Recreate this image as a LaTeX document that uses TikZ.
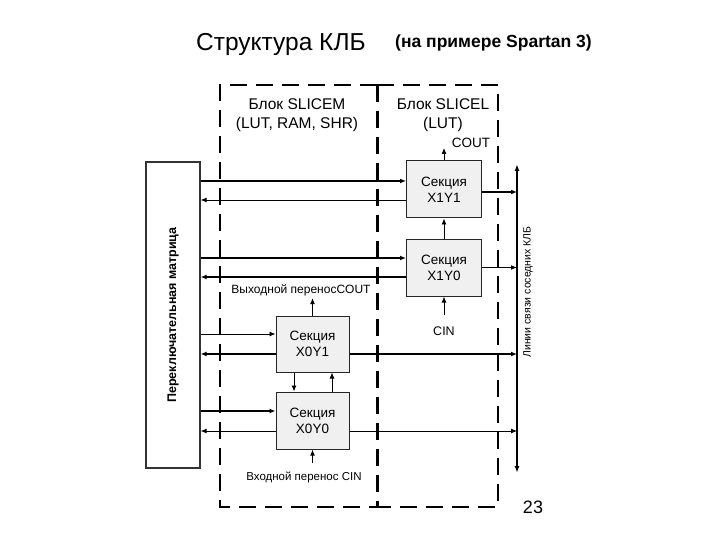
\documentclass[tikz,border=0pt]{standalone}
\usepackage{fontspec}
\setmainfont{Liberation Sans}
\usetikzlibrary{arrows.meta}
\begin{document}
\begin{tikzpicture}[x=1pt,y=-1pt,
  sect/.style={draw=black!85, line width=1pt, fill=gray!12, minimum width=75pt, minimum height=57pt, align=center, font=\fontsize{13.5}{16}\selectfont, inner sep=0pt},
  swbox/.style={draw=black!80, line width=1.2pt, fill=white, minimum width=54pt, minimum height=306pt, inner sep=0pt},
  dbox/.style={line width=2.2pt, dash pattern=on 17pt off 9pt},
  thk/.style={line width=1.7pt},
  thn/.style={line width=0.9pt},
  arr/.style={-{Latex[length=6pt,width=5pt]}},
  lbl/.style={inner sep=0pt, font=\fontsize{12}{14}\selectfont},
]
\useasboundingbox (0,0) rectangle (720,540);

% titles
\node[font=\fontsize{24.5}{28}\selectfont, anchor=west, inner sep=0pt] (t1) at (196,44) {Структура КЛБ};
\node[font=\fontsize{17.5}{20}\selectfont\bfseries, anchor=west, inner sep=0pt] (t2) at (395,43) {(на примере Spartan 3)};
\node[font=\fontsize{18}{20}\selectfont, inner sep=0pt] (pg) at (533,507) {23};

% dashed blocks
\draw[dbox] (377,85) -- (220,85) -- (220,507) -- (377,507);
\draw[dbox] (377,85) -- (498,85) -- (498,507) -- (377,507);
\draw[dbox, line width=3pt] (377,85) -- (377,507);

\node[lbl, font=\fontsize{15.5}{19}\selectfont, align=center] (bm) at (297,115) {Блок SLICEM\\(LUT, RAM, SHR)};
\node[lbl, font=\fontsize{15.5}{19}\selectfont, align=center] (bl) at (443,115) {Блок SLICEL\\(LUT)};

% switch matrix
\node[swbox] (sw) at (173,315) {};
\node[rotate=90, font=\fontsize{12.5}{14}\selectfont\bfseries, inner sep=0pt] (swl) at (sw.center) {Переключательная матрица};

% sections
\node[sect] (x11) at (444,189.5) {Секция\\X1Y1};
\node[sect] (x10) at (444,267.5) {Секция\\X1Y0};
\node[sect, minimum width=73pt, minimum height=56pt] (x01) at (312.5,344) {Секция\\X0Y1};
\node[sect, minimum width=73pt, minimum height=57pt] (x00) at (312.5,420.5) {Секция\\X0Y0};

% bus
\coordinate (bt) at (517,164);
\coordinate (bb) at (517,473);
\draw[thk, {Latex[length=7pt,width=5pt]}-{Latex[length=7pt,width=5pt]}] (bb) -- (bt);
\node[rotate=90, font=\fontsize{10.5}{12}\selectfont, inner sep=0pt] (busl) at (528,292) {Линии связи соседних КЛБ};

% X1Y1 rows
\draw[thk, arr] ([yshift=8.5pt]x11.west -| sw.east) -- ([yshift=8.5pt]x11.west);
\draw[thn, arr] ([yshift=-10.5pt]x11.west) -- ([yshift=-10.5pt]x11.west -| sw.east);
\draw[thk, arr] ([yshift=-2.5pt]x11.east) -- ([yshift=-2.5pt]x11.east -| bt);
% X1Y0 rows
\draw[thk, arr] ([yshift=9.5pt]x10.west -| sw.east) -- ([yshift=9.5pt]x10.west);
\draw[thk, arr] ([yshift=-9.5pt]x10.west) -- ([yshift=-9.5pt]x10.west -| sw.east);
\draw[thk, arr] (x10.east) -- (x10.east -| bt);
% X0Y1 rows
\draw[thn, arr] ([yshift=10pt]x01.west -| sw.east) -- ([yshift=10pt]x01.west);
\draw[thk, arr] ([yshift=-10pt]x01.west) -- ([yshift=-10pt]x01.west -| sw.east);
\draw[thk, arr] ([yshift=-10pt]x01.east) -- ([yshift=-10pt]x01.east -| bt);
% X0Y0 rows
\draw[thk, arr] ([yshift=9.5pt]x00.west -| sw.east) -- ([yshift=9.5pt]x00.west);
\draw[thn, arr] ([yshift=-10.5pt]x00.west) -- ([yshift=-10.5pt]x00.west -| sw.east);
\draw[thn, arr] ([yshift=-10.5pt]x00.east) -- ([yshift=-10.5pt]x00.east -| bt);

% carry chain SLICEL
\node[lbl, font=\fontsize{13.5}{15}\selectfont] (cout1) at (471,143) {COUT};
\coordinate (c1) at (444,148);
\draw[thn, arr] (x11.north) -- (c1);
\draw[thn, arr] (x10.north) -- (x11.south);
\node[lbl, font=\fontsize{12.5}{14}\selectfont] (cin1) at (444,331) {CIN};
\coordinate (c2) at (444,315);
\draw[thn, arr] (c2) -- (x10.south);

% carry chain SLICEM
\node[lbl] (cout0) at (301,290) {Выходной переносCOUT};
\coordinate (c3) at (312.5,298);
\draw[thk, arr] (x01.north) -- (c3);
\draw[thn, arr] ([xshift=-18.5pt]x01.south) -- ([xshift=-18.5pt]x00.north);
\draw[thn, arr] ([xshift=19.5pt]x00.north) -- ([xshift=19.5pt]x01.south);
\node[lbl, font=\fontsize{11.5}{14}\selectfont] (cin0) at (304,477) {Входной перенос CIN};
\coordinate (c4) at (312.5,463);
\draw[thk, arr] (c4) -- (x00.south);
\end{tikzpicture}
\end{document}
